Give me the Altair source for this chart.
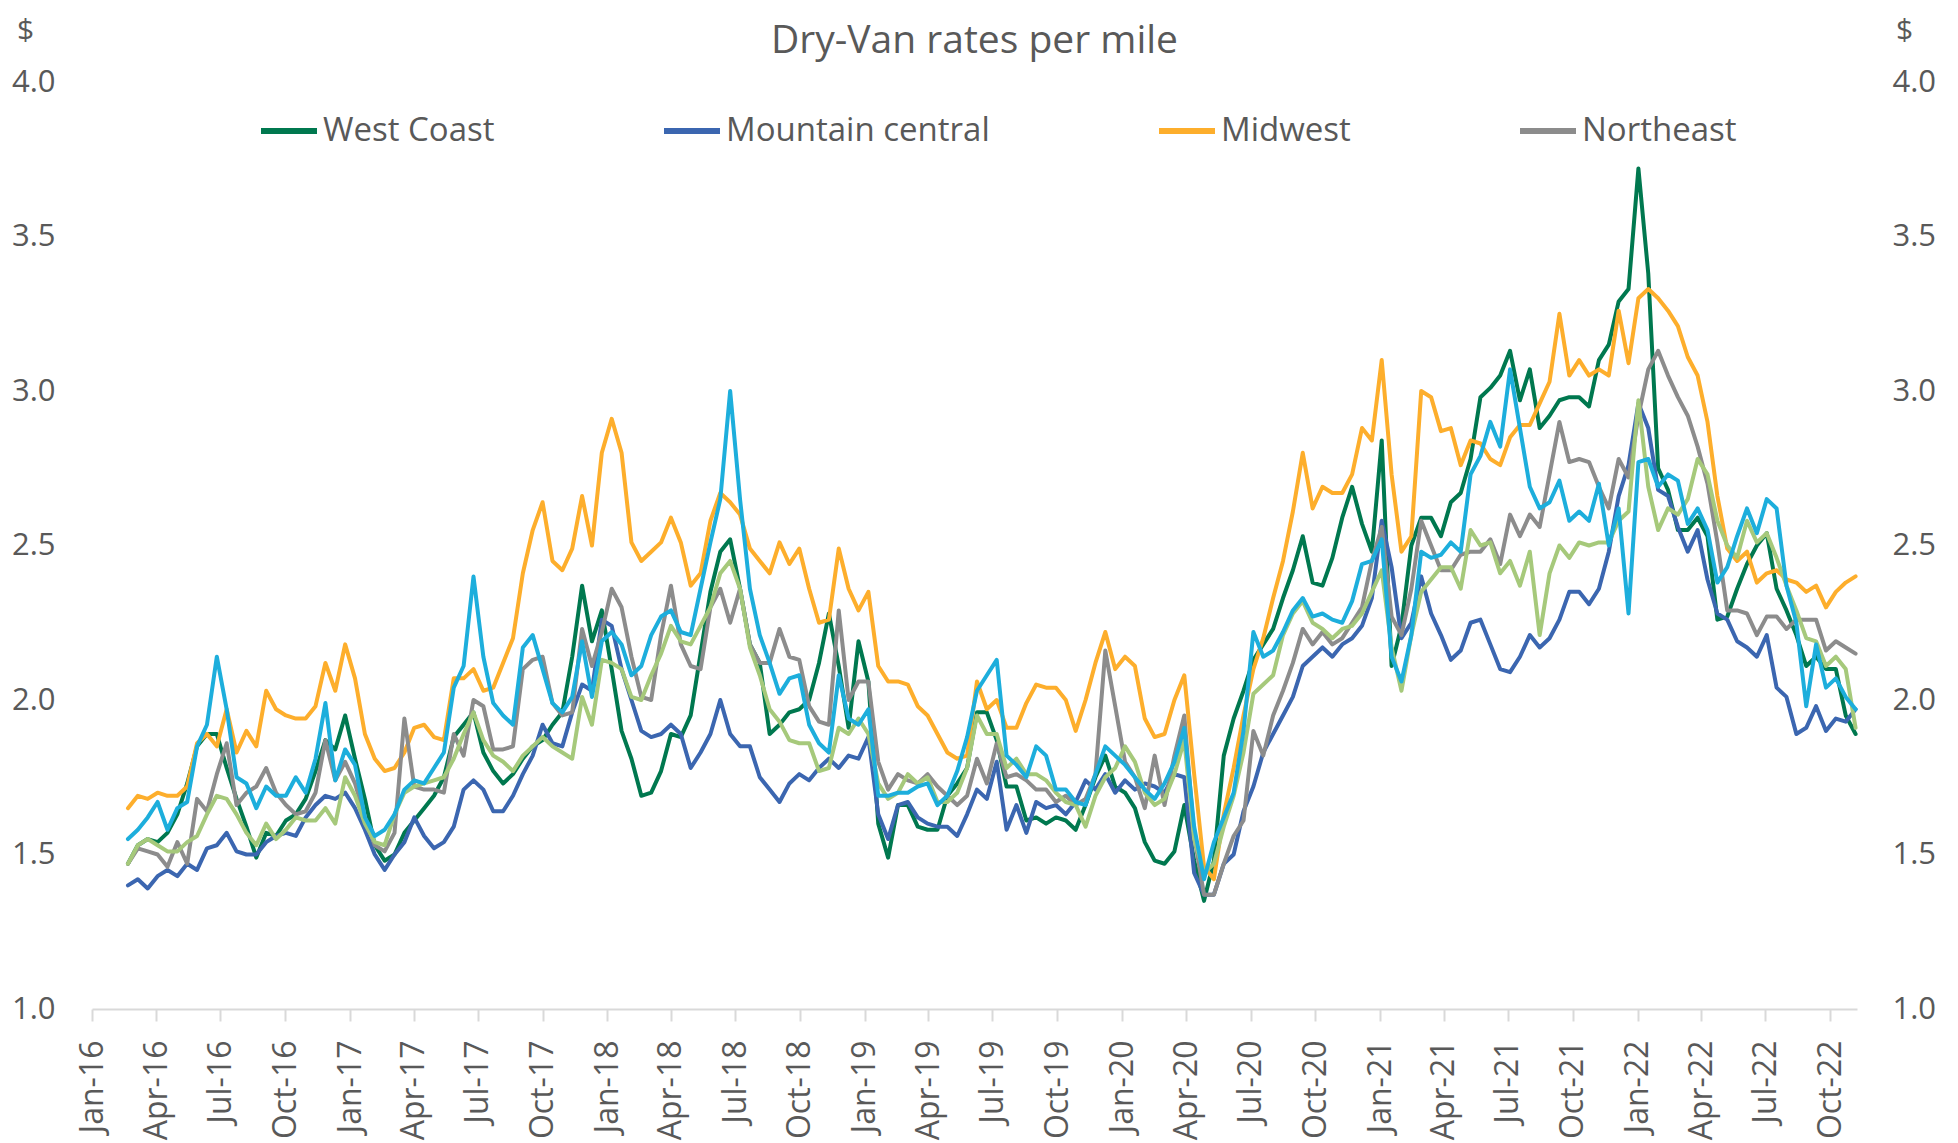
import altair as alt
import pandas as pd

# ---------------- data (bi-weekly) ----------------
start_date = "2016-02-21"
n_points = 176

west_coast = [
    1.47, 1.53, 1.55, 1.54, 1.57, 1.63, 1.73, 1.85, 1.89, 1.89,
    1.78, 1.68, 1.59, 1.49, 1.57, 1.56, 1.61, 1.63, 1.68, 1.77,
    1.87, 1.84, 1.95, 1.81, 1.68, 1.53, 1.48, 1.50, 1.57, 1.61,
    1.65, 1.69, 1.75, 1.88, 1.92, 1.96, 1.83, 1.77, 1.73, 1.76,
    1.81, 1.85, 1.87, 1.92, 1.96, 2.14, 2.37, 2.19, 2.29, 2.10,
    1.90, 1.81, 1.69, 1.70, 1.77, 1.89, 1.88, 1.95, 2.15, 2.35,
    2.48, 2.52, 2.36, 2.18, 2.12, 1.89, 1.92, 1.96, 1.97, 2.00,
    2.12, 2.28, 2.11, 1.91, 2.19, 2.06, 1.60, 1.49, 1.66, 1.66,
    1.59, 1.58,
    1.58, 1.69, 1.73, 1.78, 1.96, 1.96, 1.87, 1.72, 1.72, 1.61,
    1.62, 1.60, 1.62, 1.61, 1.58, 1.66, 1.75, 1.82, 1.72, 1.70,
    1.65, 1.54, 1.48, 1.47, 1.51, 1.66, 1.48, 1.35, 1.48, 1.82,
    1.94, 2.03, 2.13, 2.18, 2.23, 2.33, 2.42,
    2.53, 2.38, 2.37, 2.46, 2.59, 2.69, 2.57, 2.48, 2.84, 2.11,
    2.24, 2.50, 2.59, 2.59, 2.53, 2.64, 2.67, 2.78, 2.98, 3.01,
    3.05, 3.13, 2.97, 3.07, 2.88, 2.92, 2.97, 2.98, 2.98, 2.95,
    3.10, 3.15, 3.29, 3.33, 3.72, 3.38, 2.75, 2.68,
    2.55, 2.55, 2.59, 2.53, 2.26, 2.27, 2.36, 2.44, 2.50, 2.54,
    2.36, 2.29, 2.21, 2.11, 2.14, 2.10, 2.10, 1.95, 1.89,
]

mountain_central = [
    1.40, 1.42, 1.39, 1.43, 1.45, 1.43, 1.47, 1.45, 1.52, 1.53,
    1.57, 1.51, 1.50, 1.50, 1.54, 1.56, 1.57, 1.56, 1.62, 1.66,
    1.69, 1.68, 1.70, 1.65, 1.58, 1.50, 1.45, 1.50, 1.54, 1.62,
    1.56, 1.52, 1.54, 1.59, 1.71, 1.74, 1.71, 1.64, 1.64, 1.69,
    1.76, 1.82, 1.92, 1.86, 1.85, 1.96, 2.05, 2.03, 2.26, 2.24,
    2.10, 2.00, 1.90, 1.88, 1.89, 1.92, 1.89, 1.78, 1.83, 1.89,
    2.00, 1.89, 1.85, 1.85, 1.75, 1.71, 1.67, 1.73, 1.76, 1.74,
    1.78, 1.81, 1.78, 1.82, 1.81, 1.88, 1.63, 1.55, 1.66, 1.67,
    1.62, 1.60,
    1.59, 1.59, 1.56, 1.63, 1.71, 1.68, 1.80, 1.58, 1.66, 1.57,
    1.67, 1.65, 1.66, 1.63, 1.67, 1.74, 1.71, 1.76, 1.70, 1.74,
    1.71, 1.73, 1.72, 1.70, 1.76, 1.75, 1.44, 1.37, 1.37, 1.47,
    1.50, 1.64, 1.72, 1.83, 1.89, 1.95, 2.01,
    2.11, 2.14, 2.17, 2.14, 2.18, 2.20, 2.24, 2.33, 2.58, 2.43,
    2.20, 2.25, 2.40, 2.28, 2.21, 2.13, 2.16, 2.25, 2.26, 2.18,
    2.10, 2.09, 2.14, 2.21, 2.17, 2.20, 2.26, 2.35, 2.35, 2.31,
    2.36, 2.48, 2.66, 2.76, 2.96, 2.88, 2.68, 2.66,
    2.56, 2.48, 2.55, 2.39, 2.28, 2.26, 2.19, 2.17, 2.14, 2.21,
    2.04, 2.01, 1.89, 1.91, 1.98, 1.90, 1.94, 1.93, 1.97,
]

midwest = [
    1.65, 1.69, 1.68, 1.70, 1.69, 1.69, 1.72, 1.86, 1.89, 1.85,
    1.97, 1.83, 1.90, 1.85, 2.03, 1.97, 1.95, 1.94, 1.94, 1.98,
    2.12, 2.03, 2.18, 2.07, 1.89, 1.81, 1.77, 1.78, 1.83, 1.91,
    1.92, 1.88, 1.87, 2.07, 2.07, 2.10, 2.03, 2.04, 2.12, 2.20,
    2.41, 2.55, 2.64, 2.45, 2.42, 2.49, 2.66, 2.50, 2.80, 2.91,
    2.80, 2.51, 2.45, 2.48, 2.51, 2.59, 2.51, 2.37, 2.41, 2.58,
    2.67, 2.64, 2.60, 2.49, 2.45, 2.41, 2.51, 2.44, 2.49, 2.36,
    2.25, 2.26, 2.49, 2.36, 2.29, 2.35, 2.11, 2.06, 2.06, 2.05,
    1.98, 1.95,
    1.89, 1.83, 1.81, 1.82, 2.06, 1.97, 2.00, 1.91, 1.91, 1.99,
    2.05, 2.04, 2.04, 2.00, 1.90, 2.00, 2.12, 2.22, 2.10, 2.14,
    2.11, 1.94, 1.88, 1.89, 2.00, 2.08, 1.76, 1.46, 1.42, 1.63,
    1.78, 1.95, 2.10, 2.20, 2.33, 2.45, 2.61,
    2.80, 2.62, 2.69, 2.67, 2.67, 2.73, 2.88, 2.84, 3.10, 2.73,
    2.48, 2.53, 3.00, 2.98, 2.87, 2.88, 2.76, 2.84, 2.83, 2.78,
    2.76, 2.85, 2.89, 2.89, 2.96, 3.03, 3.25, 3.05, 3.10, 3.05,
    3.07, 3.05, 3.26, 3.09, 3.30, 3.33, 3.30, 3.26,
    3.21, 3.11, 3.05, 2.90, 2.66, 2.49, 2.45, 2.48, 2.38, 2.41,
    2.42, 2.39, 2.38, 2.35, 2.37, 2.30, 2.35, 2.38, 2.40,
]

northeast = [
    1.47, 1.52, 1.51, 1.50, 1.46, 1.54, 1.47, 1.68, 1.64, 1.76,
    1.86, 1.66, 1.70, 1.72, 1.78, 1.70, 1.66, 1.63, 1.64, 1.70,
    1.87, 1.74, 1.80, 1.73, 1.62, 1.53, 1.51, 1.57, 1.94, 1.72,
    1.71, 1.71, 1.70, 1.89, 1.82, 2.00, 1.98, 1.84, 1.84, 1.85,
    2.10, 2.13, 2.14, 1.99, 1.95, 1.96, 2.23, 2.11, 2.22, 2.36,
    2.30, 2.14, 2.01, 2.00, 2.21, 2.37, 2.18, 2.11, 2.10, 2.30,
    2.36, 2.25, 2.36, 2.18, 2.12, 2.12, 2.23, 2.14, 2.13, 1.98,
    1.93, 1.92, 2.29, 2.00, 2.06, 2.06, 1.80, 1.71, 1.76, 1.74,
    1.73, 1.76,
    1.72, 1.69, 1.66, 1.69, 1.81, 1.73, 1.86, 1.75, 1.76, 1.74,
    1.71, 1.71, 1.67, 1.69, 1.66, 1.68, 1.76, 2.16, 1.98, 1.80,
    1.75, 1.65, 1.82, 1.66, 1.82, 1.95, 1.56, 1.37, 1.37, 1.47,
    1.56, 1.61, 1.90, 1.82, 1.95, 2.03, 2.12,
    2.23, 2.18, 2.22, 2.18, 2.20, 2.25, 2.30, 2.45, 2.56, 2.27,
    2.21, 2.36, 2.58, 2.50, 2.42, 2.42, 2.47, 2.48, 2.48, 2.52,
    2.44, 2.60, 2.53, 2.60, 2.56, 2.73, 2.90, 2.77, 2.78, 2.77,
    2.69, 2.62, 2.78, 2.72, 2.92, 3.07, 3.13, 3.05,
    2.98, 2.92, 2.82, 2.70, 2.51, 2.29, 2.29, 2.28, 2.21, 2.27,
    2.27, 2.23, 2.26, 2.26, 2.26, 2.16, 2.19, 2.17, 2.15,
]

southeast = [  # light blue series (not named in the visible legend)
    1.55, 1.58, 1.62, 1.67, 1.58, 1.65, 1.67, 1.85, 1.92, 2.14,
    1.97, 1.75, 1.73, 1.65, 1.72, 1.69, 1.69, 1.75, 1.70, 1.81,
    1.99, 1.74, 1.84, 1.79, 1.62, 1.56, 1.58, 1.63, 1.71, 1.74,
    1.73, 1.78, 1.83, 2.04, 2.11, 2.40, 2.14, 1.99, 1.95, 1.92,
    2.17, 2.21, 2.10, 1.99, 1.96, 2.01, 2.19, 2.01, 2.19, 2.22,
    2.18, 2.08, 2.11, 2.21, 2.27, 2.29, 2.22, 2.21, 2.36, 2.51,
    2.65, 3.00, 2.65, 2.36, 2.21, 2.12, 2.02, 2.07, 2.08, 1.92,
    1.86, 1.83, 2.08, 1.94, 1.92, 1.97, 1.69, 1.69, 1.70, 1.70,
    1.72, 1.73,
    1.66, 1.69, 1.77, 1.88, 2.03, 2.08, 2.13, 1.82, 1.79, 1.75,
    1.85, 1.82, 1.71, 1.71, 1.67, 1.66, 1.76, 1.85, 1.82, 1.79,
    1.75, 1.71, 1.68, 1.73, 1.80, 1.91, 1.59, 1.42, 1.54, 1.62,
    1.70, 1.90, 2.22, 2.14, 2.16, 2.22, 2.29,
    2.33, 2.27, 2.28, 2.26, 2.25, 2.32, 2.44, 2.45, 2.52, 2.14,
    2.06, 2.21, 2.48, 2.46, 2.47, 2.51, 2.48, 2.73, 2.79, 2.90,
    2.82, 3.07, 2.88, 2.69, 2.62, 2.64, 2.71, 2.58, 2.61, 2.58,
    2.70, 2.50, 2.62, 2.28, 2.77, 2.78, 2.69, 2.73,
    2.71, 2.57, 2.62, 2.55, 2.38, 2.43, 2.53, 2.62, 2.54, 2.65,
    2.62, 2.37, 2.25, 1.98, 2.18, 2.04, 2.07, 2.01, 1.97,
]

south_central = [  # light green series (not named in the visible legend)
    1.47, 1.53, 1.55, 1.53, 1.51, 1.51, 1.54, 1.56, 1.63, 1.69,
    1.68, 1.63, 1.57, 1.53, 1.60, 1.55, 1.58, 1.62, 1.61, 1.61,
    1.65, 1.60, 1.75, 1.69, 1.60, 1.54, 1.53, 1.63, 1.70, 1.72,
    1.73, 1.74, 1.75, 1.81, 1.89, 1.96, 1.87, 1.82, 1.80, 1.77,
    1.82, 1.85, 1.88, 1.85, 1.83, 1.81, 2.01, 1.92, 2.13, 2.12,
    2.10, 2.01, 2.00, 2.08, 2.15, 2.24, 2.19, 2.18, 2.24, 2.30,
    2.41, 2.45, 2.36, 2.17, 2.08, 1.97, 1.93, 1.87, 1.86, 1.86,
    1.77, 1.78, 1.91, 1.89, 1.94, 1.89, 1.73, 1.68, 1.70, 1.76,
    1.73, 1.75,
    1.67, 1.67, 1.70, 1.78, 1.95, 1.89, 1.89, 1.78, 1.81, 1.76,
    1.76, 1.74, 1.70, 1.67, 1.66, 1.59, 1.69, 1.75, 1.78, 1.85,
    1.80, 1.70, 1.66, 1.68, 1.76, 1.87, 1.55, 1.44, 1.47, 1.59,
    1.69, 1.83, 2.02, 2.05, 2.08, 2.21, 2.28,
    2.32, 2.25, 2.23, 2.20, 2.23, 2.24, 2.28, 2.35, 2.42, 2.17,
    2.03, 2.21, 2.35, 2.39, 2.43, 2.43, 2.36, 2.55, 2.50, 2.51,
    2.41, 2.45, 2.37, 2.48, 2.21, 2.41, 2.50, 2.46, 2.51, 2.50,
    2.51, 2.51, 2.58, 2.61, 2.97, 2.69, 2.55, 2.62,
    2.60, 2.65, 2.78, 2.73, 2.58, 2.50, 2.46, 2.58, 2.51, 2.54,
    2.46, 2.37, 2.29, 2.20, 2.19, 2.11, 2.14, 2.10, 1.91,
]

series_names = ["West Coast", "Mountain central", "Midwest", "Northeast",
                "Southeast", "South Central"]
series_values = [west_coast, mountain_central, midwest, northeast,
                 southeast, south_central]
series_colors = ["#00784F", "#3B66B0", "#FDAE2C", "#8C8C8C",
                 "#1DAEDC", "#A6C97B"]
legend_names = ["West Coast", "Mountain central", "Midwest", "Northeast"]
draw_order = ["West Coast", "Mountain central", "Midwest", "Northeast",
              "South Central", "Southeast"]

y_ticks = [1.0, 1.5, 2.0, 2.5, 3.0, 3.5, 4.0]
x_tick_months = [(y, m) for y in range(2016, 2023) for m in (1, 4, 7, 10)]

# ---------------- table ----------------
dates = pd.date_range(start_date, periods=n_points, freq="14D").strftime("%Y-%m-%d")
rows = []
for name, vals in zip(series_names, series_values):
    if len(vals) != n_points:
        raise ValueError(f"{name}: {len(vals)} values")
    for d, v in zip(dates, vals):
        rows.append({"date": d, "series": name, "value": v})
df = pd.DataFrame(rows)

# ---------------- chart ----------------
FONT = "Open Sans"
TXT = "#595959"
AXIS_GREY = "#D9D9D9"

x_enc = alt.X(
    "date:T",
    scale=alt.Scale(type="utc",
                    domain=[alt.DateTime(year=2016, month=1, date=1, utc=True),
                            alt.DateTime(year=2022, month=11, date=8, utc=True)]),
    axis=alt.Axis(
        values=[alt.DateTime(year=y, month=m, date=1, utc=True) for y, m in x_tick_months],
        labelExpr="utcFormat(datum.value, '%b-%y')", labelAngle=-90,
        labelFont=FONT, labelFontSize=32, labelColor=TXT, labelPadding=19,
        labelFlush=False, labelOverlap=False, labelLimit=300,
        tickSize=12, tickColor=AXIS_GREY, tickWidth=2,
        domainColor=AXIS_GREY, domainWidth=2, grid=False, title=None,
    ),
)

y_scale = alt.Scale(domain=[1, 4], nice=False, zero=False)

def y_axis(orient):
    return alt.Axis(
        orient=orient, values=y_ticks, format=".1f",
        domain=False, ticks=False, grid=False,
        labelFont=FONT, labelFontSize=31, labelColor=TXT,
        labelPadding=37 if orient == "left" else 35,
        title="$", titleAngle=0, titleFont=FONT, titleFontSize=30,
        titleFontWeight="normal", titleColor=TXT,
        titleAlign="center", titleBaseline="middle",
        titleX=-67 if orient == "left" else 47,
        titleY=-52,
    )

color_enc = alt.Color(
    "series:N",
    scale=alt.Scale(domain=series_names, range=series_colors),
    legend=alt.Legend(
        orient="none", legendX=166, legendY=18, direction="horizontal",
        values=legend_names, title=None,
        symbolType="stroke", symbolSize=3136, symbolStrokeWidth=6,
        labelFont=FONT, labelFontSize=33, labelColor=TXT,
        labelOffset=3, labelLimit=600, columnPadding=157,
    ),
)

layers = []
for i, name in enumerate(draw_order):
    if i == 0:
        y_enc = alt.Y("value:Q", scale=y_scale, axis=y_axis("left"))
    elif i == len(draw_order) - 1:
        y_enc = alt.Y("value:Q", scale=y_scale, axis=y_axis("right"))
    else:
        y_enc = alt.Y("value:Q", scale=y_scale, axis=None)
    layers.append(
        alt.Chart(df)
        .transform_filter(alt.datum.series == name)
        .mark_line(strokeWidth=4, strokeJoin="round", strokeCap="round")
        .encode(x=x_enc, y=y_enc, color=color_enc)
    )

chart = (
    alt.layer(*layers)
    .resolve_scale(y="independent")
    .properties(
        width=1765, height=927,
        autosize=alt.AutoSizeParams(type="none"),
        padding={"left": 84, "top": 74, "right": 93, "bottom": 134},
        title=alt.TitleParams(
            "Dry-Van rates per mile", font=FONT, fontSize=39,
            fontWeight="normal", color=TXT, anchor="middle", frame="group",
            offset=0, dy=46,
        ),
        background="white",
    )
    .configure_view(stroke=None)
)

chart.save("out.html", embed_options={"renderer": "svg", "actions": False})
